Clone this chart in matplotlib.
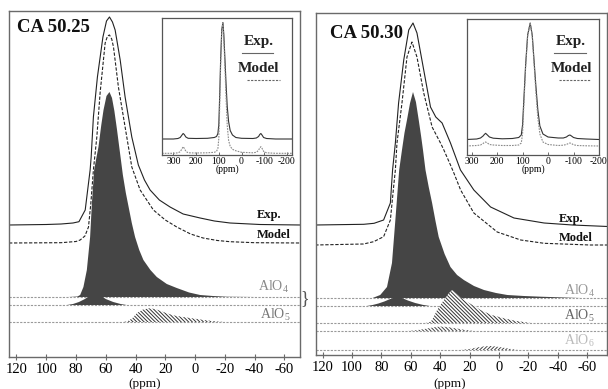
import matplotlib
matplotlib.use("Agg")
import matplotlib.pyplot as plt
import numpy as np

plt.rcParams['font.family'] = ['Liberation Serif', 'DejaVu Serif']
plt.rcParams['mathtext.fontset'] = 'custom'
plt.rcParams['mathtext.rm'] = 'Liberation Serif'
plt.rcParams['mathtext.it'] = 'Liberation Serif:italic'
plt.rcParams['mathtext.bf'] = 'Liberation Serif:bold'
plt.rcParams['hatch.linewidth'] = 0.7

# ---------------- data (ppm, intensity) ----------------
# CA 50.25 main spectrum
exp25_ppm = [125, 100, 90, 82, 78, 73.8, 70.5, 69.8, 68.3, 65.6, 61.9, 59.5, 57.5, 55.5, 53.7, 50.3, 47.0, 42.5,
             38.1, 34, 30.2, 24, 16.8, 8, -3.4, -13, -23.5, -43.6, -71]
exp25_int = [0, 0.5, 1, 2, 3.3, 15, 55, 68, 108, 148, 188, 204, 208, 203, 195, 165, 128, 88,
             60, 45, 35, 25, 18, 11, 7, 4, 2, 0.5, 0]
mod25_ppm = [125, 90, 80, 77.2, 74, 71.6, 70, 68.3, 66.0, 63.8, 60.4, 58.8, 57.5, 56, 54.8, 51.5, 47.0, 42.5,
             36.9, 28.0, 20, 12.3, 3, -5.4, -15, -23.5, -40, -71]
mod25_int = [0, 0.3, 1.5, 3, 7, 16, 40, 73, 106, 150, 200, 207, 208, 204, 196, 156, 116, 76,
             53, 33, 23, 16, 9, 5, 2.5, 1.3, 0.3, 0]
alo4_25_ppm = [125, 85, 79, 77.2, 75.0, 72.7, 70.5, 69.3, 67.8, 66.2, 64.9, 63, 61.5, 59.5, 57.5, 55.8, 54.2,
               52.5, 50.5, 48.5, 46.5, 44.5, 42.5, 40.3, 37.5, 34.7, 30, 25.7, 19, 12.3, 4, -3.4, -12,
               -21.3, -40, -71]
alo4_25_int = [0, 0, 0.5, 2, 10, 27, 60, 94, 127, 140, 150, 172, 187, 201, 205, 199, 186,
               168, 145, 122, 104, 89, 74, 60, 47, 37, 27, 20, 13, 9, 4.5, 2, 1,
               0.3, 0, 0]
alo4b_25_ppm = [125, 86, 82, 78, 74, 70, 67, 64, 60, 55, 50, 46, -71]
alo4b_25_int = [0, 0, 1, 3, 6, 10, 12, 10, 6, 3, 1, 0, 0]
alo5_25_ppm = [125, 48, 45, 42, 39, 35, 31, 27, 23, 19, 14, 8, 2, -6, -14, -20, -71]
alo5_25_int = [0, 0, 1, 4, 9, 12.5, 13.7, 13, 11, 8.7, 6.5, 5, 3.7, 2, 0.6, 0, 0]

# CA 50.30 main spectrum
exp30_ppm = [125, 92, 85, 78.5, 73.9, 72.4, 70.5, 68.3, 64.8, 61.4, 58.5, 55.8, 51.2, 46.6, 43.0, 38.7,
             33.0, 26.2, 17.1, 5.7, -10.2, -30.7, -50, -74]
exp30_int = [0, 0.7, 1.7, 5, 22, 55, 82, 122, 165, 195, 202, 192, 155, 118, 108, 102,
             82, 55, 35, 18, 7, 2, 0, -1.5]
mod30_ppm = [125, 92.2, 85.3, 78.5, 73.9, 71.7, 70.5, 69.4, 66.0, 62.6, 59.2, 55.8, 51.2, 45.5, 39.8,
             37.5, 33.0, 30.7, 26.1, 17.1, 1.2, -14.8, -30.7, -62, -74]
mod30_int = [0, 1, 3.3, 8.3, 25, 58, 75, 102, 142, 188, 203, 188, 152, 118, 102,
             95, 80, 72, 55, 32, 13, 5, 1.7, 0, 0]
alo4_30_ppm = [125, 86, 80.8, 76.2, 72.8, 70.5, 67.9, 66.0, 64.3, 62.6, 60.5, 58.5, 56.5, 54.6, 53, 51.7,
               50.0, 47.8, 45.5, 43.2, 41.0, 37, 33.0, 28.5, 23.9, 17, 10.2, 2, -5.7, -17, -28.5, -55.3, -74]
alo4_30_int = [0, 0, 3, 11, 35, 78, 128, 148, 165, 178, 195, 206, 196, 178, 162, 148,
               128, 111, 95, 77, 61, 44, 31, 23, 18, 12, 8, 5, 3, 2, 1.3, 0, 0]
alo4b_30_ppm = [125, 90, 86, 82, 78, 74, 70, 66, 62, 57, 52, 47, -74]
alo4b_30_int = [0, 0, 1, 2.5, 4.5, 7, 9, 8, 5.5, 3, 1.2, 0, 0]
alo5_30_ppm = [125, 50, 47, 45.5, 42.1, 37.5, 34, 31.9, 28, 23.9, 18, 12.5, 5, -3.4, -12, -21.6, -74]
alo5_30_int = [0, 0, 1, 3, 13, 23, 30, 33, 28, 23, 18, 13, 8, 4.7, 2, 0, 0]
alo5b_30_ppm = [125, 62, 56, 50, 44, 40, 35, 30, 24, 17, -74]
alo5b_30_int = [0, 0, 0.8, 2.2, 3.8, 4.5, 4, 2.8, 1.3, 0, 0]
alo6_30_ppm = [125, 26, 20, 15, 10, 6, 2, -3, -8, -13, -74]
alo6_30_int = [0, 0, 1, 2.5, 3.7, 4, 3.5, 2.3, 1, 0, 0]

# insets (full spectrum with spinning sidebands)
in25_ppm = [350, 300, 280, 270, 262, 257, 252, 245, 235, 200, 150, 120, 110, 104, 100, 96, 92, 87, 82, 78,
            73, 68, 63, 57, 50, 40, 25, 0, -50, -65, -75, -80, -85, -90, -97, -110, -150, -222]
in25_exp = [0.5, 0.5, 1, 2, 4.5, 6, 5, 2.5, 1.2, 1, 1.2, 2, 3, 6, 15, 45, 80, 110, 117, 105,
            80, 55, 33, 18, 9, 4.5, 2, 1.2, 1, 1.5, 3, 5, 6, 4.5, 2, 1, 0.5, 0.5]
in25_mod = [0, 0, 0.5, 1.5, 4.5, 6.6, 5, 2, 0.5, 0.3, 0.5, 1, 2, 5, 15, 48, 88, 122, 130, 115,
            85, 55, 28, 13, 7, 4, 2.5, 1, 0.5, 1, 3, 5.5, 6.6, 5, 2, 0.5, 0, 0]
in30_ppm = [320, 280, 265, 255, 250, 245, 238, 230, 215, 180, 140, 115, 105, 100, 95, 88, 80, 70, 62, 55,
            48, 40, 32, 20, 0, -40, -60, -72, -80, -86, -92, -100, -115, -150, -200]
in30_exp = [0.5, 1, 2, 4, 5.5, 6.7, 5, 3, 1.8, 1.2, 1.5, 2.5, 5, 15, 40, 75, 105, 117, 105, 80,
            55, 30, 14, 6, 3, 2, 2, 3, 4.5, 5, 4, 2.5, 1.5, 1, 0.5]
in30_mod = [0, 0.5, 1, 2.5, 3.5, 4, 3, 1.5, 1, 0.5, 0.5, 1, 3, 12, 40, 78, 110, 123, 110, 83,
            55, 28, 12, 4, 1.5, 0.5, 0.8, 1.5, 2.5, 3, 2.5, 1.2, 0.5, 0.2, 0]

main_ticks = [120, 100, 80, 60, 40, 20, 0, -20, -40, -60]
inset_ticks = [300, 200, 100, 0, -100, -200]

# ---------------- layout helpers (pixel coords) ----------------
W, H = 608, 389
fig = plt.figure(figsize=(W / 100, H / 100), dpi=100)


def box(x0, y0, x1, y1):
    return [x0 / W, 1 - y1 / H, (x1 - x0) / W, (y1 - y0) / H]


def ftext(x, y, s, **kw):
    kw.setdefault('va', 'center')
    kw.setdefault('ha', 'left')
    fig.text(x / W, 1 - y / H, s, **kw)


FRAME = '#6a6a6a'
DOT = (0, (2, 1.2))


def style_main(ax, xlim, ylim):
    ax.set_xlim(*xlim)
    ax.set_ylim(*ylim)
    for s in ax.spines.values():
        s.set_color(FRAME)
        s.set_linewidth(1.0)
    ax.set_yticks([])
    ax.set_xticks(main_ticks)
    ax.set_xticklabels([str(t) for t in main_ticks])
    ax.tick_params(axis='x', direction='inout', length=4, width=0.8, color=FRAME,
                   labelsize=10.5, pad=2)


def baseline(ax, row, color='#9a9a9a'):
    ax.axhline(row, color=color, lw=0.8, ls=DOT, zorder=1)


def curve(ax, ppm, inten, row, **kw):
    y = row - np.asarray(inten, dtype=float)
    ax.plot(ppm, y, **kw)


def filled(ax, ppm, inten, row, **kw):
    y = row - np.asarray(inten, dtype=float)
    ax.fill_between(ppm, y, row, **kw)


AL4_FACE = '#454545'
HATCH_B = '\\' * 9
HATCH_F = '/' * 9

# ---------------- left panel (CA 50.25) ----------------
axL = fig.add_axes(box(9, 11, 300, 357))
style_main(axL, (125, -70.5), (357, 11))
curve(axL, exp25_ppm, exp25_int, 225, color='#222', lw=0.8)
curve(axL, mod25_ppm, mod25_int, 243, color='#222', lw=0.8, ls=(0, (3, 1.5)))
baseline(axL, 305)
filled(axL, alo4b_25_ppm, alo4b_25_int, 305, facecolor=AL4_FACE, edgecolor='none', zorder=2)
filled(axL, alo4_25_ppm, alo4_25_int, 297, facecolor=AL4_FACE, edgecolor='none', zorder=2)
baseline(axL, 297)
filled(axL, alo5_25_ppm, alo5_25_int, 322, facecolor='white', edgecolor='#333', hatch=HATCH_B, lw=0, zorder=2)
baseline(axL, 322)

# ---------------- right panel (CA 50.30) ----------------
axR = fig.add_axes(box(316, 13, 607, 355))
style_main(axR, (124.5, -73.5), (355, 13))
curve(axR, exp30_ppm, exp30_int, 225, color='#222', lw=0.8)
curve(axR, mod30_ppm, mod30_int, 245, color='#222', lw=0.8, ls=(0, (3, 1.5)))
baseline(axR, 306)
filled(axR, alo4b_30_ppm, alo4b_30_int, 306, facecolor=AL4_FACE, edgecolor='none', zorder=2)
filled(axR, alo4_30_ppm, alo4_30_int, 298, facecolor=AL4_FACE, edgecolor='none', zorder=2)
baseline(axR, 298)
filled(axR, alo5_30_ppm, alo5_30_int, 323, facecolor='white', edgecolor='#333', hatch=HATCH_B, lw=0, zorder=2)
baseline(axR, 323)
filled(axR, alo5b_30_ppm, alo5b_30_int, 331, facecolor='white', edgecolor='#444', hatch=HATCH_B, lw=0, zorder=2)
baseline(axR, 331)
filled(axR, alo6_30_ppm, alo6_30_int, 350, facecolor='white', edgecolor='#444', hatch=HATCH_F, lw=0, zorder=2)
baseline(axR, 350)


# ---------------- insets ----------------
def make_inset(x0, y0, x1, y1, xlim, ppm, e, m, erow, mrow):
    ax = fig.add_axes(box(x0, y0, x1, y1))
    ax.set_xlim(*xlim)
    ax.set_ylim(y1, y0)
    for s in ax.spines.values():
        s.set_color('#555')
        s.set_linewidth(0.9)
    ax.set_yticks([])
    ax.set_xticks(inset_ticks)
    ax.set_xticklabels([str(t) for t in inset_ticks])
    ax.tick_params(axis='x', direction='in', length=2, width=0.6, color='#555', labelsize=7, pad=1.5)
    curve(ax, ppm, e, erow, color='#333', lw=0.8)
    curve(ax, ppm, m, mrow, color='#8a8a8a', lw=0.8, ls=(0, (1.5, 1)))
    ax.set_xlabel('(ppm)', fontsize=7, labelpad=-1)
    return ax


make_inset(162, 18, 292, 155, (350, -222), in25_ppm, in25_exp, in25_mod, 139.5, 153.3)
make_inset(467, 19, 599, 155, (318, -200), in30_ppm, in30_exp, in30_mod, 140, 146)

# inset legends
for (ex, ey, l0, l1, mx, my, d0, d1) in [(244, 42, 242, 273, 238, 68, 247, 280),
                                          (556, 42, 554, 586, 551, 68, 559, 591)]:
    ftext(ex, ey, 'Exp.', fontsize=11, fontweight='bold', color='#222')
    fig.add_artist(plt.Line2D([l0 / W, l1 / W], [1 - 52.5 / H, 1 - 52.5 / H], color='#666', lw=0.8))
    ftext(mx, my, 'Model', fontsize=11, fontweight='bold', color='#222')
    fig.add_artist(plt.Line2D([d0 / W, d1 / W], [1 - 79.5 / H, 1 - 79.5 / H], color='#666', lw=0.8,
                              ls=(0, (2, 1.2))))

# ---------------- text ----------------
ftext(17, 28, 'CA 50.25', fontsize=13.5, fontweight='bold', color='#111')
ftext(330, 34, 'CA 50.30', fontsize=13.5, fontweight='bold', color='#111')

ftext(257, 215, 'Exp.', fontsize=9, fontweight='bold', color='#111')
ftext(257, 235, 'Model', fontsize=9, fontweight='bold', color='#111')
ftext(258, 287, r'AlO$_4$', fontsize=10, color='#8a8a8a')
ftext(260, 315, r'AlO$_5$', fontsize=10, color='#777')

ftext(559, 219, 'Exp.', fontsize=9, fontweight='bold', color='#111')
ftext(559, 238, 'Model', fontsize=9, fontweight='bold', color='#111')
ftext(564, 291, r'AlO$_4$', fontsize=10, color='#999')
ftext(564, 316, r'AlO$_5$', fontsize=10, color='#666')
ftext(564, 341, r'AlO$_6$', fontsize=10, color='#bbb')

ftext(305, 299, '}', fontsize=13, color='#555', ha='center')

ftext(145, 384, '(ppm)', fontsize=9.5, ha='center', color='#111')
ftext(450, 384, '(ppm)', fontsize=9.5, ha='center', color='#111')

fig.savefig('out.png', dpi=100)
